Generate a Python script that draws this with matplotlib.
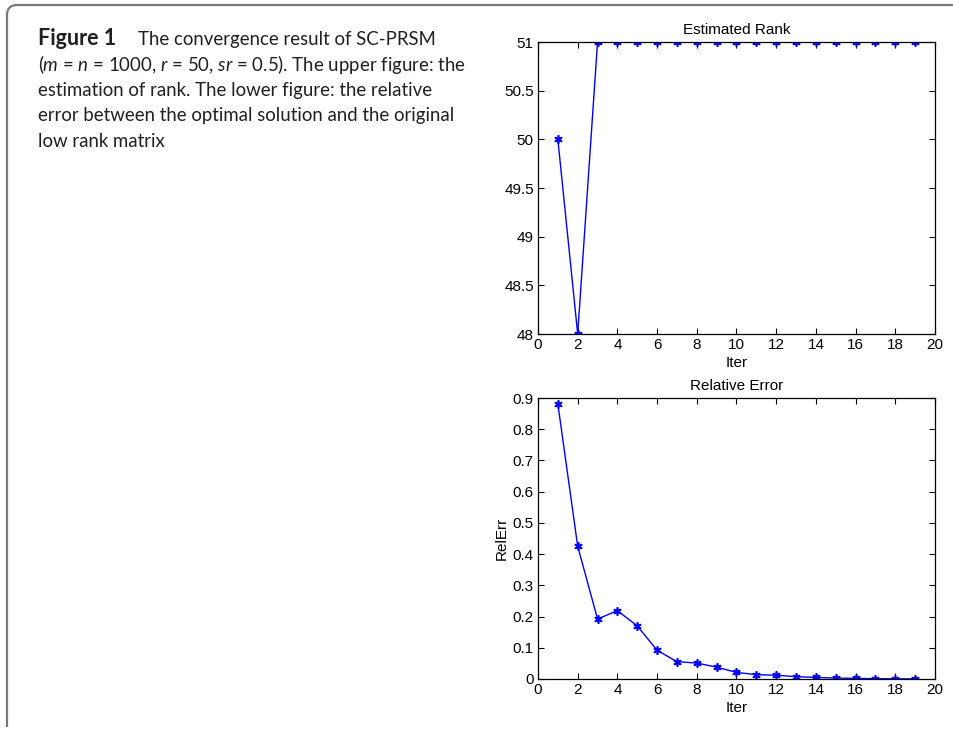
import matplotlib
matplotlib.use("Agg")
import matplotlib.pyplot as plt
from matplotlib.path import Path
from matplotlib.patches import PathPatch

# data
iters = list(range(1, 20))
rank_est = [50, 48] + [51] * 17
rel_err = [0.881, 0.425, 0.192, 0.219, 0.170, 0.092, 0.0555, 0.051, 0.038,
           0.021, 0.014, 0.012, 0.0075, 0.005, 0.003, 0.002, 0.001, 0.0006, 0.0003]

rank_ticks = [48, 48.5, 49, 49.5, 50, 50.5, 51]
rank_ticklabels = ["48", "48.5", "49", "49.5", "50", "50.5", "51"]
err_ticks = [0, 0.1, 0.2, 0.3, 0.4, 0.5, 0.6, 0.7, 0.8, 0.9]
err_ticklabels = ["0", "0.1", "0.2", "0.3", "0.4", "0.5", "0.6", "0.7", "0.8", "0.9"]
iter_ticks = list(range(0, 21, 2))

caption = [
    "The convergence result of SC-PRSM",
    r"($m$ = $n$ = 1000, $r$ = 50, $sr$ = 0.5). The upper figure: the",
    "estimation of rank. The lower figure: the relative",
    "error between the optimal solution and the original",
    "low rank matrix",
]

plt.rcParams["font.family"] = ["Liberation Sans", "DejaVu Sans"]
plt.rcParams["mathtext.fontset"] = "custom"
plt.rcParams["mathtext.rm"] = "Lato"
plt.rcParams["mathtext.it"] = "Lato:italic"

W, H = 954, 730
fig = plt.figure(figsize=(W / 100, H / 100), dpi=100)

# rounded frame, top and left edges
verts = [(W, 5), (17, 5), (7, 5), (7, 15), (7, 727)]
codes = [Path.MOVETO, Path.LINETO, Path.CURVE3, Path.CURVE3, Path.LINETO]
verts = [(x / W, 1 - y / H) for x, y in verts]
fig.add_artist(PathPatch(Path(verts, codes), transform=fig.transFigure,
                         fill=False, edgecolor="#7a7a7a", linewidth=1.6))

# caption
cap_font = dict(family=["Lato", "DejaVu Sans"], color="#231f20")
fig.text(38 / W, 1 - 45 / H, "Figure 1", fontweight="bold", fontsize=15.5,
         va="baseline", **cap_font)
fig.text(138 / W, 1 - 45 / H, caption[0], fontsize=13.4, va="baseline", **cap_font)
for i, line in enumerate(caption[1:]):
    fig.text(38 / W, 1 - (70.5 + 25.5 * i) / H, line, fontsize=13.4,
             va="baseline", **cap_font)


def style(ax):
    ax.tick_params(direction="in", top=True, right=True, length=4, width=0.8,
                   labelsize=11, pad=3)
    for s in ax.spines.values():
        s.set_linewidth(0.9)
    ax.set_xlim(0, 20)
    ax.set_xticks(iter_ticks)
    ax.set_xlabel("Iter", fontsize=11, labelpad=3)


# matlab-like asterisk marker
star = (6, 2, 0)

left, width = 538 / W, 397 / W
ax1 = fig.add_axes([left, 1 - 334 / H, width, 292 / H])
ax1.plot(iters, rank_est, color="blue", marker=star, markersize=6,
         markeredgewidth=1.2, linewidth=1)
ax1.set_ylim(48, 51)
ax1.set_yticks(rank_ticks)
ax1.set_yticklabels(rank_ticklabels)
ax1.set_title("Estimated Rank", fontsize=11, pad=6)
style(ax1)

ax2 = fig.add_axes([left, 1 - 679 / H, width, 281 / H])
ax2.plot(iters, rel_err, color="blue", marker=star, markersize=6,
         markeredgewidth=1.2, linewidth=1)
ax2.set_ylim(0, 0.9)
ax2.set_yticks(err_ticks)
ax2.set_yticklabels(err_ticklabels)
ax2.set_title("Relative Error", fontsize=11, pad=6)
ax2.set_ylabel("RelErr", fontsize=11, labelpad=3)
style(ax2)

fig.savefig("out.png", dpi=100)
